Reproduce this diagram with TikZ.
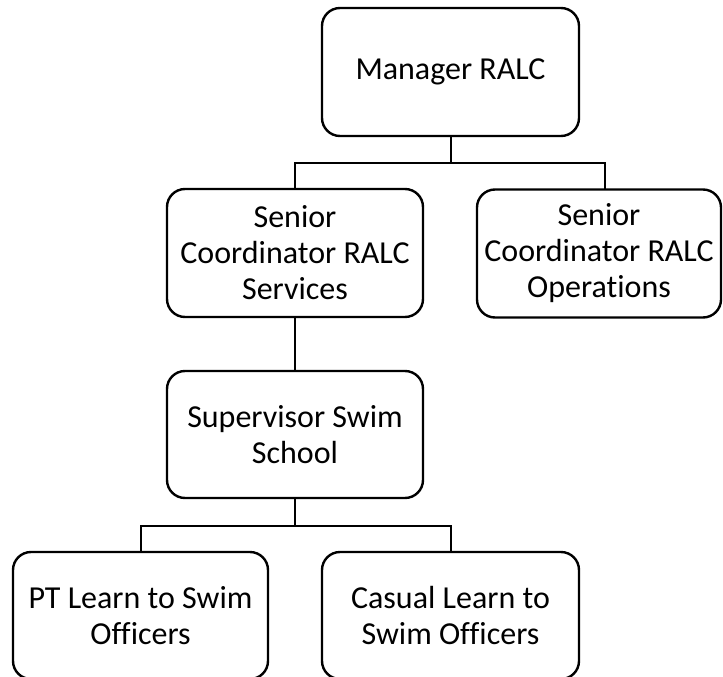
\documentclass[tikz,border=0pt]{standalone}
\usepackage{fontspec}
\setmainfont[Ligatures=NoCommon]{Carlito}
\begin{document}
\begin{tikzpicture}[x=1pt,y=-1pt,
  box/.style={draw, line width=2.4pt, rounded corners=18pt, minimum width=256pt,
    minimum height=128pt, align=center, inner sep=0pt,
    font=\fontsize{32}{36}\selectfont},
  link/.style={line width=2pt}]
\useasboundingbox[fill=white] (0,0) rectangle (723,677);
\node[box, minimum width=257pt] (mgr) at (450.5,72) {Manager RALC};
\node[box] (svc) at (295,253) {Senior\\Coordinator RALC\\Services};
\node[box, minimum width=244pt] (ops) at (599,253.5) {Senior\\Coordinator RALC\\Operations};
\node[box, minimum height=127pt] (sup) at (295,434.5) {Supervisor Swim\\School};
\node[box, minimum width=255pt, minimum height=127pt] (pt) at (140.5,615.5) {PT Learn to Swim\\Officers};
\node[box, minimum width=257pt, minimum height=127pt] (cas) at (450.5,615.5) {Casual Learn to\\Swim Officers};
\coordinate (opstop) at (605,189.5);
\draw[link] (mgr.south) -- ++(0,26) coordinate (j1);
\draw[link] (svc.north) |- (j1) -| (opstop);
\draw[link] (svc.south) -- (sup.north);
\draw[link] (sup.south) -- ++(0,27) coordinate (j2);
\draw[link] (pt.north) |- (j2) -| (cas.north);
\end{tikzpicture}
\end{document}
